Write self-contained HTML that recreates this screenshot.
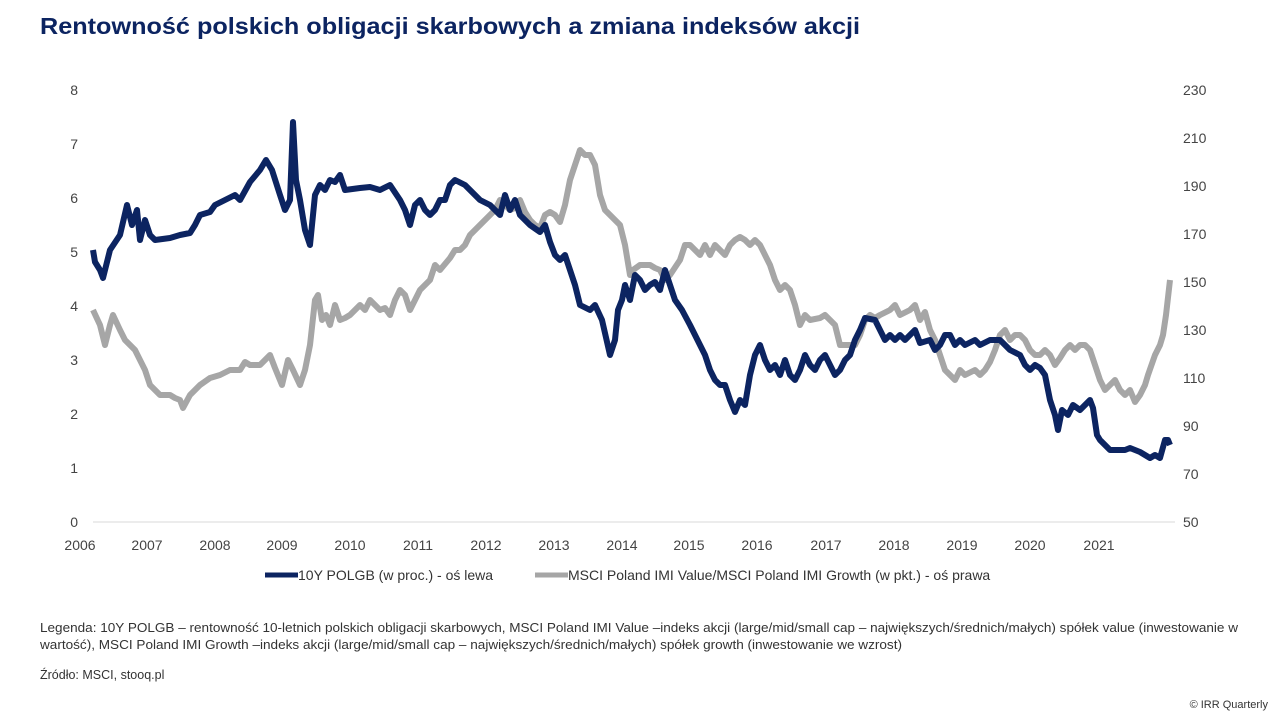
<!DOCTYPE html>
<html><head><meta charset="utf-8"><style>
body{margin:0;width:1280px;height:720px;background:#fff;overflow:hidden;font-family:"Liberation Sans",sans-serif;}
svg text{font-family:"Liberation Sans",sans-serif;}
</style></head><body>
<svg width="1280" height="720" viewBox="0 0 1280 720">
<text x="40" y="34" font-size="23" font-weight="bold" fill="#0c2461" textLength="820" lengthAdjust="spacingAndGlyphs">Rentowność polskich obligacji skarbowych a zmiana indeksów akcji</text>
<g font-size="14" fill="#444">
<text x="78" y="95" text-anchor="end">8</text>
<text x="78" y="149" text-anchor="end">7</text>
<text x="78" y="203" text-anchor="end">6</text>
<text x="78" y="257" text-anchor="end">5</text>
<text x="78" y="311" text-anchor="end">4</text>
<text x="78" y="365" text-anchor="end">3</text>
<text x="78" y="419" text-anchor="end">2</text>
<text x="78" y="473" text-anchor="end">1</text>
<text x="78" y="527" text-anchor="end">0</text>
<text x="1183" y="95">230</text>
<text x="1183" y="143">210</text>
<text x="1183" y="191">190</text>
<text x="1183" y="239">170</text>
<text x="1183" y="287">150</text>
<text x="1183" y="335">130</text>
<text x="1183" y="383">110</text>
<text x="1183" y="431">90</text>
<text x="1183" y="479">70</text>
<text x="1183" y="527">50</text>
<g text-anchor="middle">
<text x="80" y="550">2006</text><text x="147" y="550">2007</text><text x="215" y="550">2008</text><text x="282" y="550">2009</text><text x="350" y="550">2010</text><text x="418" y="550">2011</text><text x="486" y="550">2012</text><text x="554" y="550">2013</text><text x="622" y="550">2014</text><text x="689" y="550">2015</text><text x="757" y="550">2016</text><text x="826" y="550">2017</text><text x="894" y="550">2018</text><text x="962" y="550">2019</text><text x="1030" y="550">2020</text><text x="1099" y="550">2021</text>
</g></g>
<line x1="93" y1="522" x2="1175" y2="522" stroke="#d9d9d9" stroke-width="1"/>
<polyline fill="none" stroke="#a6a6a6" stroke-width="6" stroke-linejoin="round" points="93,310 100,325 105,345 110,325 113,315 120,330 125,340 130,345 135,350 140,360 145,370 150,385 155,390 160,395 170,395 175,398 180,400 183,408 190,395 200,385 210,378 220,375 230,370 240,370 245,362 250,365 260,365 270,355 275,368 282,385 288,360 293,370 300,385 305,370 310,345 315,300 318,295 322,320 326,315 330,325 335,305 340,320 345,318 350,315 355,310 360,305 365,310 370,300 375,305 380,310 385,308 390,315 395,300 400,290 405,295 410,310 415,300 420,290 425,285 430,280 435,265 440,270 450,258 455,250 460,250 465,245 470,235 475,230 480,225 485,220 490,215 495,210 500,200 505,205 510,210 515,208 520,200 525,212 530,220 535,225 540,228 545,215 550,212 555,215 560,222 565,205 570,180 575,165 580,150 585,155 590,155 595,165 600,195 605,210 610,215 620,225 625,245 630,275 633,270 640,265 650,265 655,268 660,270 665,280 670,275 680,260 685,245 690,245 695,250 700,255 705,245 710,255 715,245 720,250 725,255 730,245 735,240 740,237 745,240 750,245 755,240 760,245 765,255 770,265 775,280 780,290 785,285 790,290 795,305 800,325 805,315 810,320 820,318 825,315 830,320 835,325 840,345 855,345 860,335 865,320 870,315 875,318 880,315 890,310 895,305 900,315 910,310 915,305 920,320 925,312 930,330 935,340 940,355 945,370 950,375 955,380 960,370 965,375 975,370 980,375 985,370 990,362 995,350 1000,335 1005,330 1010,340 1015,335 1020,335 1025,340 1030,350 1035,355 1040,355 1045,350 1050,355 1055,365 1060,358 1065,350 1070,345 1075,350 1080,345 1085,345 1090,350 1095,365 1100,380 1105,390 1110,385 1115,380 1120,390 1125,395 1130,390 1135,402 1140,395 1145,385 1148,375 1155,355 1160,345 1163,335 1166,315 1170,280"/>
<polyline fill="none" stroke="#0c2461" stroke-width="6" stroke-linejoin="round" points="93,250 95,262 100,270 103,278 110,250 120,235 127,205 132,225 137,210 140,240 145,220 150,235 155,240 170,238 180,235 190,233 195,225 200,215 210,212 215,205 225,200 235,195 240,200 250,182 260,170 266,160 272,170 280,195 285,210 290,200 293,122 296,180 300,200 305,230 310,245 315,195 320,185 325,190 330,180 335,182 340,175 345,190 360,188 370,187 380,190 390,185 400,200 405,210 410,225 415,205 420,200 425,210 430,215 435,210 440,200 445,200 450,185 455,180 465,185 470,190 480,200 490,205 500,215 505,195 510,210 515,200 520,215 530,225 540,232 545,225 550,242 555,255 560,260 565,255 570,270 575,285 580,305 590,310 595,305 602,320 610,355 615,340 618,310 622,300 625,285 630,300 635,275 640,280 645,290 650,285 655,282 660,290 665,270 670,285 675,300 682,310 690,325 695,335 700,345 705,355 710,370 715,380 720,385 725,385 730,400 735,412 740,400 745,405 750,375 755,355 760,345 765,360 770,370 775,365 780,375 785,360 790,375 795,380 800,370 805,355 810,365 815,370 820,360 825,355 830,365 835,375 840,370 845,360 850,355 855,340 860,330 865,318 875,320 880,330 885,340 890,335 895,340 900,335 905,340 910,335 915,330 920,343 930,340 935,350 940,345 945,335 950,335 955,345 960,340 965,345 975,340 980,345 990,340 1000,340 1010,350 1020,355 1025,365 1030,370 1035,365 1040,368 1045,375 1050,400 1055,415 1058,430 1062,410 1068,415 1073,405 1080,410 1085,405 1090,400 1093,408 1097,435 1100,440 1105,445 1110,450 1120,450 1125,450 1130,448 1140,452 1145,455 1150,458 1155,455 1160,458 1165,440 1168,440 1170,445"/>
<line x1="265" y1="575" x2="298" y2="575" stroke="#0c2461" stroke-width="5"/>
<text x="298" y="580" font-size="14" fill="#333">10Y POLGB (w proc.) - oś lewa</text>
<line x1="535" y1="575" x2="568" y2="575" stroke="#a6a6a6" stroke-width="5"/>
<text x="568" y="580" font-size="14" fill="#333">MSCI Poland IMI Value/MSCI Poland IMI Growth (w pkt.) - oś prawa</text>
<g font-size="12.5" fill="#333">
<text x="40" y="632" textLength="1198" lengthAdjust="spacingAndGlyphs">Legenda: 10Y POLGB – rentowność 10-letnich polskich obligacji skarbowych, MSCI Poland IMI Value –indeks akcji (large/mid/small cap – największych/średnich/małych) spółek value (inwestowanie w</text>
<text x="40" y="649" textLength="862" lengthAdjust="spacingAndGlyphs">wartość), MSCI Poland IMI Growth –indeks akcji (large/mid/small cap – największych/średnich/małych) spółek growth (inwestowanie we wzrost)</text>
<text x="40" y="679">Źródło: MSCI, stooq.pl</text>
<text x="1268" y="708" text-anchor="end" font-size="11">© IRR Quarterly</text>
</g>
</svg>
</body></html>
